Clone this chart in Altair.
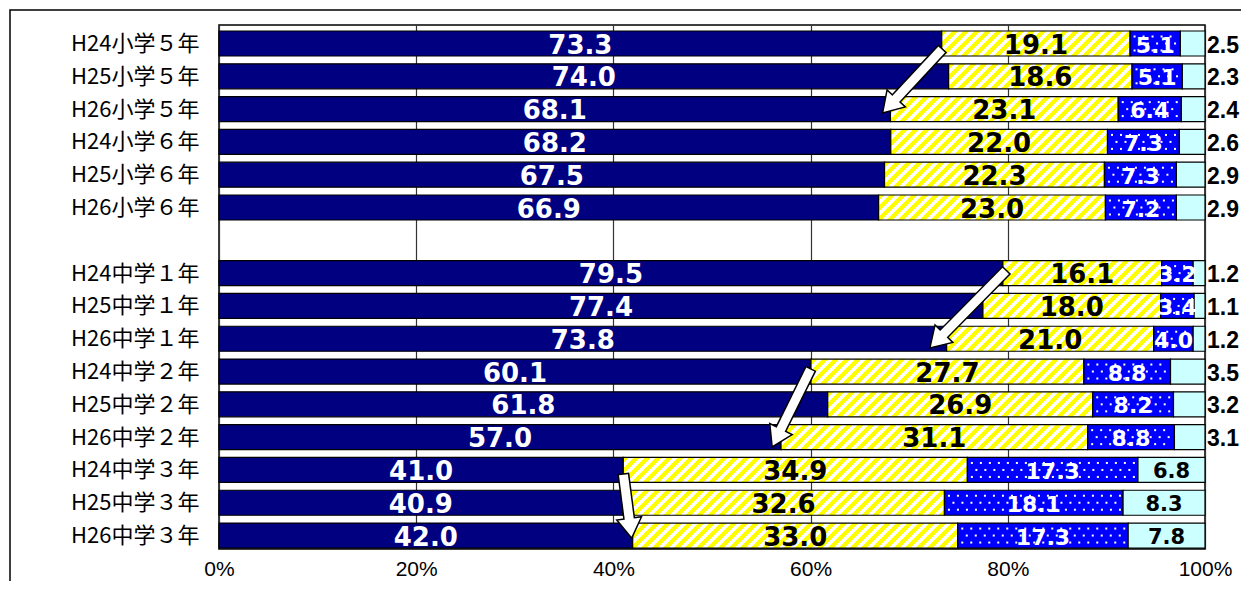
import math
import json
import altair as alt

# ---------------- data ----------------
categories = ["H24小学５年", "H25小学５年", "H26小学５年",
              "H24小学６年", "H25小学６年", "H26小学６年",
              "H24中学１年", "H25中学１年", "H26中学１年",
              "H24中学２年", "H25中学２年", "H26中学２年",
              "H24中学３年", "H25中学３年", "H26中学３年"]
rows = [0, 1, 2, 3, 4, 5, 7, 8, 9, 10, 11, 12, 13, 14, 15]   # row 6 is the gap
dark = [73.3, 74.0, 68.1, 68.2, 67.5, 66.9, 79.5, 77.4, 73.8, 60.1, 61.8, 57.0, 41.0, 40.9, 42.0]
yellow = [19.1, 18.6, 23.1, 22.0, 22.3, 23.0, 16.1, 18.0, 21.0, 27.7, 26.9, 31.1, 34.9, 32.6, 33.0]
blue = [5.1, 5.1, 6.4, 7.3, 7.3, 7.2, 3.2, 3.4, 4.0, 8.8, 8.2, 8.8, 17.3, 18.1, 17.3]
cyan = [2.5, 2.3, 2.4, 2.6, 2.9, 2.9, 1.2, 1.1, 1.2, 3.5, 3.2, 3.1, 6.8, 8.3, 7.8]
cyan_inside = [False] * 12 + [True] * 3
x_ticks = [0, 20, 40, 60, 80, 100]

# arrows: from category index to category index (tail on first, tip on second)
arrow_from = [0, 6, 9, 12]
arrow_to = [2, 8, 11, 14]
arrow_tail_dx = [0.1, 0.4, 0.0, 0.0]
arrow_tail_dy = [0.15, -0.1, -0.1, 0.1]
arrow_tip_dx = [-0.8, -1.7, -0.9, -0.1]
arrow_tip_dy = [0.12, 0.28, 0.3, 0.08]

# ---------------- layout constants ----------------
W_PLOT, H_PLOT = 986, 524
Y_DOMAIN = [-0.564, 15.41]
PX = W_PLOT / 100.0
PY = H_PLOT / (Y_DOMAIN[1] - Y_DOMAIN[0])
HALF = 12.5 / PY

FILLS = {"dark": "#000080", "blue": "#0000FF", "cyan": "#CCFFFF"}


def hatch(wpx, hpx, period=11.0, duty=0.55):
    L = wpx + hpx
    k = L / (wpx * wpx + hpx * hpx)
    stops = []
    j = 0
    while j * period < L:
        a = min(j * period / L, 1.0)
        b = min((j * period + period * duty) / L, 1.0)
        c = min((j + 1) * period / L, 1.0)
        stops += [{"offset": round(a, 5), "color": "#FFFF00"},
                  {"offset": round(b, 5), "color": "#FFFF00"},
                  {"offset": round(b, 5), "color": "#FFFFFF"},
                  {"offset": round(c, 5), "color": "#FFFFFF"}]
        j += 1
    return {"gradient": "linear", "x1": 0, "y1": 0,
            "x2": round(wpx * k, 5), "y2": round(hpx * k, 5), "stops": stops}


seg_records = []
label_in = []
label_out = []
dark_end = []
for i, cat in enumerate(categories):
    vals = [dark[i], yellow[i], blue[i], cyan[i]]
    tot = sum(vals)
    start = 0.0
    for name, v in zip(["dark", "yellow", "blue", "cyan"], vals):
        w = v / tot * 100.0
        end = start + w
        fill = hatch(w * PX, 25.0) if name == "yellow" else FILLS[name]
        seg_records.append({"row": rows[i], "x0": start, "x1": end,
                            "y0": rows[i] - HALF, "y1": rows[i] + HALF,
                            "series": name, "fill": fill})
        txt = f"{v:.1f}"
        if name == "dark":
            dark_end.append(end)
            label_in.append({"lx": (start + end) / 2, "ly": rows[i], "txt": txt, "fs": 26, "tc": "white"})
        elif name == "yellow":
            label_in.append({"lx": (start + end) / 2, "ly": rows[i], "txt": txt, "fs": 26, "tc": "black"})
        elif name == "blue":
            label_in.append({"lx": (start + end) / 2, "ly": rows[i], "txt": txt, "fs": 22, "tc": "white"})
        else:
            if cyan_inside[i]:
                label_in.append({"lx": (start + end) / 2, "ly": rows[i], "txt": txt, "fs": 21, "tc": "black"})
            else:
                label_out.append({"lx": 100.0, "ly": rows[i], "txt": txt, "fs": 23, "tc": "black"})
        start = end

arrow_recs = []
for k in range(len(arrow_from)):
    i0, i1 = arrow_from[k], arrow_to[k]
    tx = dark_end[i0] + arrow_tail_dx[k]
    ty = rows[i0] + arrow_tail_dy[k]
    hx = dark_end[i1] + arrow_tip_dx[k]
    hy = rows[i1] + arrow_tip_dy[k]
    dxp, dyp = (hx - tx) * PX, (hy - ty) * PY
    ln = math.hypot(dxp, dyp)
    ux, uy = dxp / ln, dyp / ln
    ang = math.degrees(math.atan2(-ux, uy)) % 360
    arrow_recs.append({
        "tx": tx, "ty": ty,
        "bx": hx - 19 * ux / PX, "by": hy - 19 * uy / PY,
        "wx0": tx + 1.5 * ux / PX, "wy0": ty + 1.5 * uy / PY,
        "wx1": hx - 16 * ux / PX, "wy1": hy - 16 * uy / PY,
        "hx": hx, "hy": hy, "ang": ang})

names_by_row = [""] * 16
for r, c in zip(rows, categories):
    names_by_row[r] = c

# ---------------- chart ----------------
x_scale = alt.Scale(domain=[0, 100], nice=False, zero=False)
y_scale = alt.Scale(domain=Y_DOMAIN, reverse=True, nice=False, zero=False)

x_axis = alt.Axis(values=x_ticks, labelExpr="datum.value + '%'",
                  grid=True, gridColor="#333333", gridWidth=1.2,
                  ticks=False, tickSize=0, domain=False, title=None,
                  labelFont="Liberation Sans", labelFontSize=21,
                  labelColor="black", labelBaseline="alphabetic",
                  labelPadding=26, labelFlush=False, labelOverlap=False)
y_axis = alt.Axis(values=rows,
                  labelExpr=json.dumps(names_by_row, ensure_ascii=False) + "[datum.value]",
                  grid=False, ticks=False, tickSize=0, domain=False, title=None,
                  labelFont="Noto Sans CJK JP", labelFontSize=22, labelColor="black",
                  labelPadding=20, labelFlush=False, labelOverlap=False)


def X(field):
    return alt.X(field, scale=x_scale, axis=x_axis)


def Y(field):
    return alt.Y(field, scale=y_scale, axis=y_axis)


seg_data = alt.Data(values=seg_records)

frame = alt.Chart(alt.Data(values=[{"a": 1}])).mark_rect(
    fillOpacity=0, stroke="black", strokeWidth=1.5
).encode(x=alt.value(-209), x2=alt.value(1300), y=alt.value(-15), y2=alt.value(800))

bars = alt.Chart(seg_data).mark_rect(stroke="black", strokeWidth=1.2).encode(
    x=X("x0:Q"), x2="x1:Q", y=Y("y0:Q"), y2="y1:Q",
    fill=alt.Fill("fill:N", scale=None),
)

dots = alt.Chart(seg_data).transform_filter("datum.series == 'blue'").transform_calculate(
    r="[-1, 0, 1]"
).transform_flatten(["r"]).transform_calculate(
    d=f"sequence(datum.x0 + {4.5 / PX} + (datum.r == 0 ? {4.5 / PX} : 0), datum.x1 - {2 / PX}, {9 / PX})"
).transform_flatten(["d"]).transform_calculate(
    yd=f"datum.row + datum.r * {7 / PY}"
).mark_square(size=4, color="white", opacity=1).encode(x=X("d:Q"), y=Y("yd:Q"))

lab_in = alt.Chart(alt.Data(values=label_in)).mark_text(
    font="DejaVu Sans", fontWeight="bold", baseline="middle", align="center", dy=2
).encode(x=X("lx:Q"), y=Y("ly:Q"),
         text="txt:N", size=alt.Size("fs:Q", scale=None), color=alt.Color("tc:N", scale=None))

lab_out = alt.Chart(alt.Data(values=label_out)).mark_text(
    font="Liberation Sans", fontWeight="bold", baseline="middle", align="left", dx=2, dy=2
).encode(x=X("lx:Q"), y=Y("ly:Q"),
         text="txt:N", size=alt.Size("fs:Q", scale=None), color=alt.Color("tc:N", scale=None))

arrow_data = alt.Data(values=arrow_recs)
shaft_black = alt.Chart(arrow_data).mark_rule(color="black", strokeWidth=12).encode(
    x=X("tx:Q"), y=Y("ty:Q"), x2="bx:Q", y2="by:Q")
head = alt.Chart(arrow_data).mark_point(
    shape="M0,0L-1,-1.6L1,-1.6Z", size=625, filled=True, fill="white", fillOpacity=1,
    stroke="black", strokeWidth=1.5, opacity=1
).encode(x=X("hx:Q"), y=Y("hy:Q"), angle=alt.Angle("ang:Q", scale=None))
shaft_white = alt.Chart(arrow_data).mark_rule(color="white", strokeWidth=9).encode(
    x=X("wx0:Q"), y=Y("wy0:Q"), x2="wx1:Q", y2="wy1:Q")

chart = alt.layer(frame, bars, dots, lab_in, lab_out, shaft_black, head, shaft_white).properties(
    width=W_PLOT, height=H_PLOT,
    padding={"left": 211, "top": 17, "right": 36, "bottom": 32},
    autosize=alt.AutoSizeParams(type="none"),
    background="white",
).configure_view(stroke="black", strokeWidth=1.5)

chart.save("out.html", embed_options={"renderer": "svg", "actions": False})
